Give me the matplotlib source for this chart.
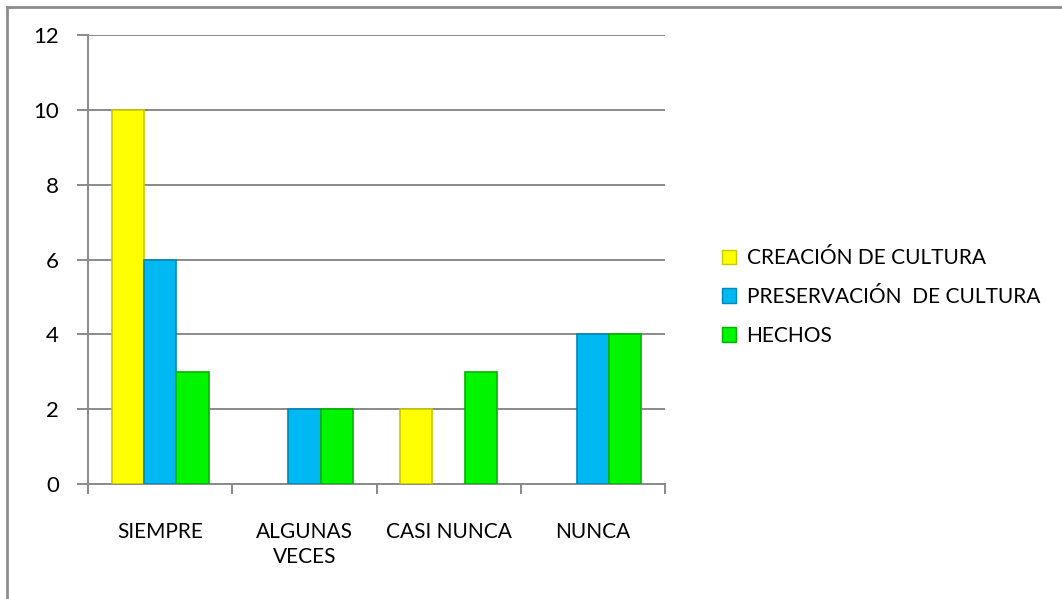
import numpy as np
import matplotlib.pyplot as plt
from matplotlib.patches import Rectangle

categories = ["SIEMPRE", "ALGUNAS\nVECES", "CASI NUNCA", "NUNCA"]
series_names = ["CREACIÓN DE CULTURA", "PRESERVACIÓN  DE CULTURA", "HECHOS"]
creacion = [10, 0, 2, 0]
preservacion = [6, 2, 0, 4]
hechos = [3, 2, 3, 4]

faces = ["#FFFF00", "#00B8F2", "#00F500"]
edges = ["#C8C800", "#0088B8", "#00B400"]

plt.rcParams['font.family'] = ['Lato', 'DejaVu Sans']
fs = 15

fig = plt.figure(figsize=(10.62, 5.99), dpi=100)
# outer chart frame (only top and left edges are visible in the crop)
fig.add_artist(plt.Line2D([7 / 1062, 7 / 1062], [0, 1 - 7 / 599], transform=fig.transFigure,
                          color="#8c8c8c", lw=2))
fig.add_artist(plt.Line2D([7 / 1062, 1], [1 - 7 / 599, 1 - 7 / 599], transform=fig.transFigure,
                          color="#8c8c8c", lw=2))

ax = fig.add_axes([88 / 1062, 115 / 599, 577 / 1062, 449 / 599])

x = np.arange(len(categories))
w = 0.224
handles = []
for i, vals in enumerate([creacion, preservacion, hechos]):
    pos = x + (i - 1) * w
    keep = [v > 0 for v in vals]
    ax.bar(pos[keep], np.array(vals)[keep], w, color=faces[i], edgecolor=edges[i],
           linewidth=1.2, zorder=3)
    handles.append(Rectangle((0, 0), 1, 1, facecolor=faces[i], edgecolor=edges[i], lw=1))

ax.set_xlim(-0.5, len(categories) - 0.5)
ax.set_ylim(0, 12)
ax.set_yticks(range(0, 13, 2))
ax.yaxis.grid(True, color="#8a8a8a", lw=1.4, zorder=0)
ax.set_axisbelow(True)

ax.set_xticks(x)
ax.set_xticklabels(categories, fontsize=fs, linespacing=1.35, va="top")
ax.set_xticks(np.arange(-0.5, len(categories) + 0.5, 1), minor=True)
ax.tick_params(axis="x", which="major", length=0, pad=27)
ax.tick_params(axis="x", which="minor", length=7, color="#8a8a8a", width=1.4)
ax.tick_params(axis="y", length=8, color="#8a8a8a", width=1.4, labelsize=16, pad=13)

for s in ["top", "right"]:
    ax.spines[s].set_visible(False)
for s in ["left", "bottom"]:
    ax.spines[s].set_color("#8a8a8a")
    ax.spines[s].set_linewidth(1.4)

fig.legend(handles, series_names, loc="center right", bbox_to_anchor=(1040 / 1062, 1 - 297 / 599),
           frameon=False, fontsize=fs, handlelength=0.7, handleheight=0.7,
           handletextpad=0.5, labelspacing=0.9, borderaxespad=0, borderpad=0)

fig.savefig("out.png", dpi=100)
